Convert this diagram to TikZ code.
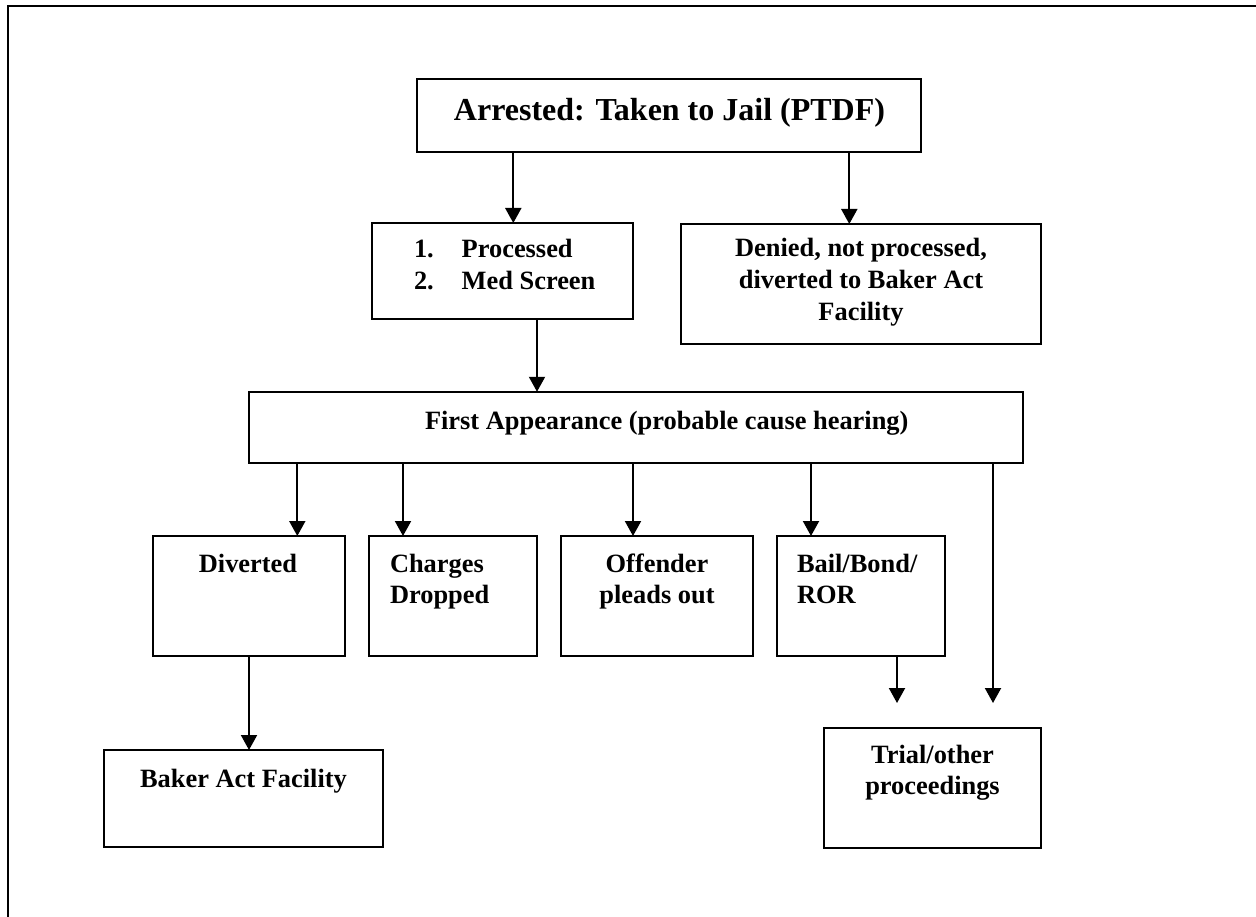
\documentclass[tikz,border=0pt]{standalone}
\usepackage{fontspec}
\setmainfont{Liberation Serif}
\usetikzlibrary{arrows.meta}
\tikzset{
  box/.style={draw=black, line width=2.4pt, rectangle, inner sep=0pt, outer sep=0pt, fill=white},
  arr/.style={draw=black, line width=2pt, -{Triangle[width=16pt,length=15pt]}},
  txt/.style={inner sep=0pt, outer sep=0pt, font=\fontsize{26.4}{32}\selectfont\bfseries},
  bigtxt/.style={inner sep=0pt, outer sep=0pt, font=\fontsize{32}{38}\selectfont\bfseries},
  frame/.style={draw=black, line width=1.6pt}
}
\begin{document}
\begin{tikzpicture}[x=1pt, y=-1pt]
\useasboundingbox (0,0) rectangle (1256,917);
\draw[frame] (8,920) -- (8,6) -- (1260,6);

% boxes
\node[box, minimum width=504pt, minimum height=72.5pt] (top) at (669,115.5) {};
\node[box, minimum width=261pt, minimum height=96pt] (proc) at (502.5,271) {};
\node[box, minimum width=360pt, minimum height=120pt] (den) at (861,284) {};
\node[box, minimum width=774pt, minimum height=71.5pt] (fa) at (636,427.5) {};
\node[box, minimum width=192pt, minimum height=120pt] (div) at (249,596) {};
\node[box, minimum width=168pt, minimum height=120pt] (chg) at (453,596) {};
\node[box, minimum width=192pt, minimum height=120pt] (off) at (657,596) {};
\node[box, minimum width=168pt, minimum height=120pt] (bail) at (861,596) {};
\node[box, minimum width=279pt, minimum height=97pt] (baker) at (243.5,798.5) {};
\node[box, minimum width=217pt, minimum height=120pt] (trial) at (932.5,788) {};

% texts
\node[bigtxt, anchor=base] (toptxt) at (669.5,121) {Arrested: Taken to Jail (PTDF)};
\node[txt, anchor=base west] (p1n) at (414,258) {1.};
\node[txt, anchor=base west] (p1) at (461.7,258) {Processed};
\node[txt, anchor=base west] (p2n) at (414,290) {2.};
\node[txt, anchor=base west] (p2) at (461.7,290) {Med Screen};
\node[txt, anchor=base] (d1) at (861,257) {Denied, not processed,};
\node[txt, anchor=base] (d2) at (861,289) {diverted to Baker Act};
\node[txt, anchor=base] (d3) at (861,321) {Facility};
\node[txt, anchor=base west] (fatxt) at (425,429.3) {First Appearance (probable cause hearing)};
\node[txt, anchor=base] (divtxt) at (248,572) {Diverted};
\node[txt, anchor=base west] (c1) at (390,572) {Charges};
\node[txt, anchor=base west] (c2) at (390,603) {Dropped};
\node[txt, anchor=base] (o1) at (657,572) {Offender};
\node[txt, anchor=base] (o2) at (657,603) {pleads out};
\node[txt, anchor=base west] (b1) at (797,572) {Bail/Bond/};
\node[txt, anchor=base west] (b2) at (797,603) {ROR};
\node[txt, anchor=base] (bk) at (243.5,787) {Baker Act Facility};
\node[txt, anchor=base] (t1) at (932.5,763) {Trial/other};
\node[txt, anchor=base] (t2) at (932.5,794) {proceedings};

% free arrow ends
\coordinate (endA) at (897,703);
\coordinate (endB) at (993,703);

% connectors
\draw[arr] ([xshift=10.8pt]proc.north |- top.south) -- ([xshift=10.8pt]proc.north);
\draw[arr] ([xshift=-11.7pt]den.north |- top.south) -- ([xshift=-11.7pt]den.north);
\draw[arr] ([xshift=34.5pt]proc.south) -- ([xshift=34.5pt]proc.south |- fa.north);
\draw[arr] ([xshift=48.3pt]div.north |- fa.south) -- ([xshift=48.3pt]div.north);
\draw[arr] ([xshift=-50pt]chg.north |- fa.south) -- ([xshift=-50pt]chg.north);
\draw[arr] ([xshift=-24pt]off.north |- fa.south) -- ([xshift=-24pt]off.north);
\draw[arr] ([xshift=-50pt]bail.north |- fa.south) -- ([xshift=-50pt]bail.north);
\draw[arr] (endB |- fa.south) -- (endB);
\draw[arr] (div.south) -- (div.south |- baker.north);
\draw[arr] (endA |- bail.south) -- (endA);
\end{tikzpicture}
\end{document}
